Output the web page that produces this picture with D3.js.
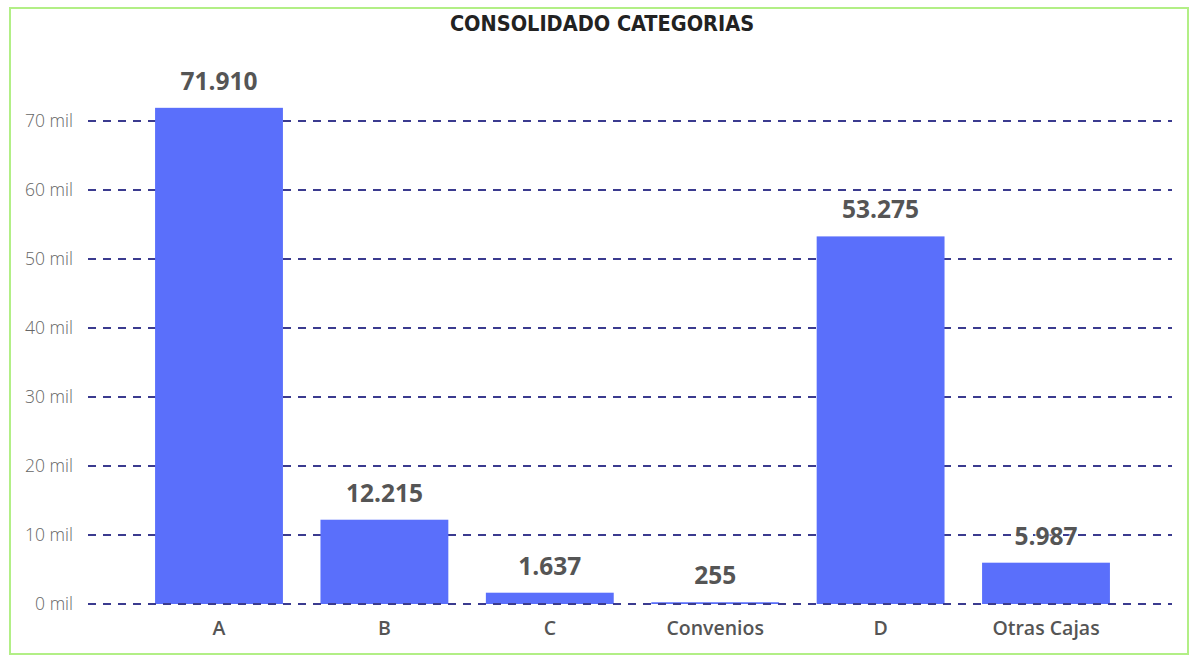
<!DOCTYPE html>
<html><head><meta charset="utf-8">
<script src="https://cdn.jsdelivr.net/npm/d3@7/dist/d3.min.js"></script>
<style>body{margin:0;background:#fff;}svg{display:block;}</style>
</head><body>
<svg id="c" width="1198" height="658"></svg>
<script>
const categories = ["A", "B", "C", "Convenios", "D", "Otras Cajas"];
const values = [71910, 12215, 1637, 255, 53275, 5987];
const yTicks = [0, 10000, 20000, 30000, 40000, 50000, 60000, 70000];
const title = "CONSOLIDADO CATEGORIAS";

const svg = d3.select("#c");
svg.append("rect").attr("x", 10).attr("y", 8).attr("width", 1178).attr("height", 646)
  .attr("fill", "#fff").attr("stroke", "#b2ef86").attr("stroke-width", 2);

svg.append("text").attr("x", 602).attr("y", 31).attr("text-anchor", "middle")
  .attr("font-family", "'DejaVu Sans Condensed', 'DejaVu Sans'").attr("font-weight", "bold")
  .attr("font-size", 21.5).attr("fill", "#222").text(title);

const loc = d3.formatLocale({decimal: ",", thousands: ".", grouping: [3], currency: ["$", ""]});
const fmt = loc.format(",d");

const y = d3.scaleLinear().domain([0, 70000]).range([604, 121]);
const step = (1046 - 219) / 5;
const x = d3.scaleBand().domain(categories).range([219 - step / 2, 1046 + step / 2])
  .paddingInner(0.227).paddingOuter(0.1135);

const gridX0 = 88, gridX1 = 1172;
const yAxis = d3.axisLeft(y).tickValues(yTicks).tickSize(0).tickPadding(0)
  .tickFormat(d => (d / 1000) + " mil");
const ga = svg.append("g").attr("transform", "translate(73,0)").call(yAxis);
ga.select(".domain").remove();
ga.selectAll("text").attr("font-family", "'Open Sans', sans-serif").attr("font-size", 17.5)
  .attr("font-weight", 300).attr("fill", "#666");

const grid = svg.append("g");
grid.selectAll("line").data(yTicks.filter(d => d > 0)).join("line")
  .attr("x1", gridX0).attr("x2", gridX1).attr("y1", d => y(d)).attr("y2", d => y(d))
  .attr("stroke", "#3b3b8f").attr("stroke-width", 2).attr("stroke-dasharray", "8,7");

svg.append("g").selectAll("rect").data(values).join("rect")
  .attr("x", (d, i) => x(categories[i])).attr("width", x.bandwidth())
  .attr("y", d => y(d)).attr("height", d => y(0) - y(d))
  .attr("fill", "#5a6ffb");

svg.append("line").attr("x1", gridX0).attr("x2", gridX1).attr("y1", y(0)).attr("y2", y(0))
  .attr("stroke", "#3b3b8f").attr("stroke-width", 2).attr("stroke-dasharray", "8,7");

svg.append("g").selectAll("text").data(values).join("text")
  .attr("x", (d, i) => x(categories[i]) + x.bandwidth() / 2)
  .attr("y", d => y(d) - 18).attr("text-anchor", "middle")
  .attr("font-family", "'Open Sans', sans-serif").attr("font-weight", "bold")
  .attr("font-size", 24.5).attr("fill", "#555")
  .attr("paint-order", "stroke").attr("stroke", "rgba(255,255,255,0.7)").attr("stroke-width", 3)
  .text(d => fmt(d));

const xAxis = d3.axisBottom(x).tickSize(0).tickPadding(0);
const gx = svg.append("g").attr("transform", "translate(0,635)").call(xAxis);
gx.select(".domain").remove();
gx.selectAll("text").attr("dy", 0).attr("font-family", "'Open Sans', sans-serif")
  .attr("font-weight", 600).attr("font-size", 19.5).attr("fill", "#555");
</script>
</body></html>
